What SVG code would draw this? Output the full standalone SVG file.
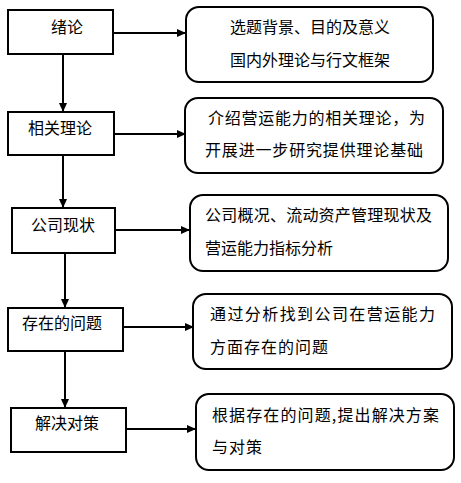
<svg xmlns="http://www.w3.org/2000/svg" width="461" height="483" viewBox="0 0 461 483">
<style>
.box{fill:#fff;stroke:#000;stroke-width:2}
.rbox{fill:#fff;stroke:#000;stroke-width:2}
.t{font-family:"Noto Sans CJK SC","Noto Sans",sans-serif;font-size:16px;fill:#000}
.c{stroke:#000;stroke-width:2;fill:none;marker-end:url(#ah)}
</style>
<defs>
<marker id="ah" markerWidth="10" markerHeight="10" refX="9" refY="5" orient="auto" markerUnits="userSpaceOnUse">
<path d="M0,1 L9,5 L0,9 Z" fill="#000"/>
</marker>
</defs>
<rect width="461" height="483" fill="#fff"/>
<g id="connectors">
<line class="c" x1="113" y1="33" x2="186" y2="33"/>
<line class="c" x1="63" y1="55" x2="63" y2="112"/>
<line class="c" x1="114" y1="134" x2="186" y2="134"/>
<line class="c" x1="63" y1="155" x2="63" y2="208"/>
<line class="c" x1="115" y1="230" x2="190" y2="230"/>
<line class="c" x1="65" y1="253" x2="65" y2="308"/>
<line class="c" x1="121" y1="327" x2="194" y2="327"/>
<line class="c" x1="65" y1="351" x2="65" y2="408"/>
<line class="c" x1="126" y1="429" x2="196" y2="429"/>
</g>
<g id="n1"><rect class="box" x="8" y="10" width="105" height="44"/><text class="t" x="67" y="33" text-anchor="middle">绪论</text></g>
<g id="n2"><rect class="box" x="8" y="112" width="106" height="43"/><text class="t" x="60" y="134" text-anchor="middle">相关理论</text></g>
<g id="n3"><rect class="box" x="12" y="208" width="103" height="45"/><text class="t" x="63" y="231" text-anchor="middle">公司现状</text></g>
<g id="n4"><rect class="box" x="8" y="308" width="115" height="43"/><text class="t" x="22" y="329">存在的问题</text></g>
<g id="n5"><rect class="box" x="11" y="408" width="115" height="44"/><text class="t" x="67" y="429" text-anchor="middle">解决对策</text></g>
<g id="d1"><rect class="rbox" x="186" y="7" width="247" height="75" rx="13"/><text class="t" x="310" y="33" text-anchor="middle">选题背景、目的及意义</text><text class="t" x="310" y="66" text-anchor="middle">国内外理论与行文框架</text></g>
<g id="d2"><rect class="rbox" x="185" y="98" width="258" height="75" rx="13"/><text class="t" x="208" y="124" textLength="217">介绍营运能力的相关理论，为</text><text class="t" x="205" y="156" textLength="218">开展进一步研究提供理论基础</text></g>
<g id="d3"><rect class="rbox" x="190" y="195" width="258" height="76" rx="13"/><text class="t" x="205" y="221" textLength="227">公司概况、流动资产管理现状及</text><text class="t" x="205" y="254">营运能力指标分析</text></g>
<g id="d4"><rect class="rbox" x="193" y="294" width="259" height="75" rx="13"/><text class="t" x="210" y="320" textLength="225">通过分析找到公司在营运能力</text><text class="t" x="210" y="353" letter-spacing="1">方面存在的问题</text></g>
<g id="d5"><rect class="rbox" x="196" y="394" width="258" height="76" rx="13"/><text class="t" x="212" y="421" textLength="227">根据存在的问题,提出解决方案</text><text class="t" x="212" y="453" letter-spacing="1">与对策</text></g>
</svg>
